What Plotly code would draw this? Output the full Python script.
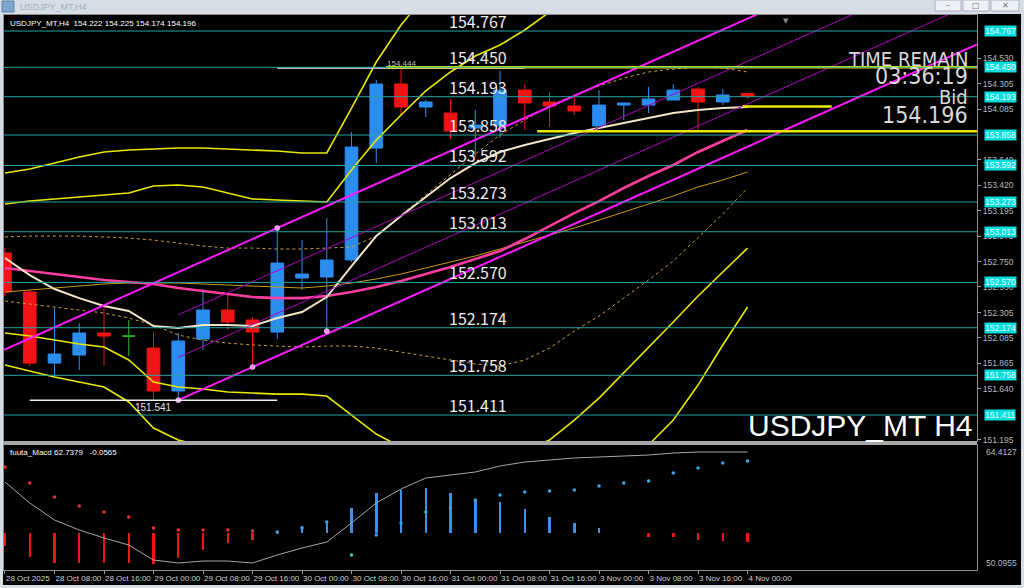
import plotly.graph_objects as go

# ---------------- data ----------------
BARS = list(range(31))
OPEN = [152.827, 152.486, 151.865, 151.935, 152.128, 152.101, 151.996, 151.621, 152.075, 152.329,
        152.241, 152.136, 152.608, 152.617, 152.766, 153.744, 154.304, 154.103, 154.050, 153.919,
        153.937, 154.251, 154.147, 154.112, 153.937, 154.120, 154.120, 154.164, 154.260, 154.147, 154.222]
HIGH = [152.870, 152.503, 152.346, 152.215, 152.372, 152.241, 152.136, 152.128, 152.512, 152.460,
        152.267, 153.045, 152.940, 153.133, 153.884, 154.339, 154.444, 154.164, 154.173, 154.077,
        154.417, 154.304, 154.234, 154.181, 154.251, 154.140, 154.278, 154.304, 154.278, 154.260, 154.225]
LOW = [152.451, 151.839, 151.760, 151.804, 151.839, 151.927, 151.548, 151.541, 151.979, 152.154,
       151.830, 152.075, 152.503, 152.145, 152.748, 153.613, 154.033, 154.015, 153.823, 153.666,
       153.832, 153.902, 153.928, 154.033, 153.937, 153.989, 154.050, 154.164, 153.902, 154.120, 154.174]
CLOSE = [152.486, 151.865, 151.944, 152.128, 152.101, 152.101, 151.621, 152.058, 152.329, 152.224,
         152.136, 152.739, 152.643, 152.766, 153.753, 154.304, 154.103, 154.147, 153.893, 153.945,
         154.251, 154.138, 154.112, 154.068, 154.120, 154.138, 154.173, 154.251, 154.147, 154.208, 154.196]
DOJI_BARS = [5]

BB_UP3 = [153.526, 153.561, 153.613, 153.666, 153.710, 153.727, 153.736, 153.744, 153.744, 153.736,
          153.727, 153.718, 153.701, 153.701, 154.094, 154.496, 154.819, 155.082, 155.257, 155.388,
          155.475, 155.519, 155.562, 155.606, 155.650, 155.650, 155.650, 155.606, 155.562, 155.492, 155.449]
BB_UP2 = [153.255, 153.281, 153.299, 153.316, 153.334, 153.351, 153.412, 153.421, 153.404, 153.351,
          153.299, 153.290, 153.281, 153.273, 153.552, 153.814, 154.033, 154.243, 154.409, 154.549,
          154.645, 154.776, 154.933, 154.986, 155.003, 155.012, 155.003, 154.968, 154.968, 154.951, 154.933]
BB_UP1 = [152.967, 152.975, 152.975, 152.975, 152.967, 152.958, 152.940, 152.914, 152.888, 152.870,
          152.870, 152.862, 152.862, 152.870, 152.879, 152.975, 153.159, 153.334, 153.517, 153.692,
          153.858, 153.989, 154.112, 154.208, 154.286, 154.356, 154.409, 154.435, 154.452, 154.444, 154.409]
BB_MID = [152.696, 152.670, 152.643, 152.617, 152.591, 152.573, 152.556, 152.521, 152.495, 152.468,
          152.442, 152.433, 152.433, 152.451, 152.486, 152.530, 152.582, 152.643, 152.704, 152.774,
          152.844, 152.949, 153.063, 153.176, 153.281, 153.395, 153.500, 153.596, 153.710, 153.806, 153.902]
BB_LO1 = [152.407, 152.381, 152.355, 152.329, 152.302, 152.259, 152.198, 152.110, 152.066, 152.040,
          152.023, 152.014, 152.005, 152.014, 152.014, 151.996, 151.961, 151.927, 151.892, 151.857,
          151.839, 151.892, 151.996, 152.145, 152.276, 152.433, 152.591, 152.757, 152.967, 153.168, 153.395]
BB_LO2 = [152.128, 152.101, 152.066, 152.031, 152.005, 151.892, 151.699, 151.656, 151.638, 151.612,
          151.603, 151.594, 151.594, 151.577, 151.411, 151.245, 151.131, 151.044, 151.000, 151.000,
          151.044, 151.105, 151.192, 151.367, 151.559, 151.778, 151.996, 152.224, 152.451, 152.661, 152.870]
BB_LO3 = [151.848, 151.795, 151.743, 151.699, 151.656, 151.525, 151.297, 151.192, 151.140, 151.105,
          151.088, 151.088, 151.105, 151.105, 150.886, 150.563, 150.345, 150.231, 150.187, 150.187,
          150.231, 150.318, 150.493, 150.668, 150.843, 151.000, 151.149, 151.367, 151.673, 152.023, 152.355]
MA_FAST = [152.783, 152.634, 152.512, 152.433, 152.364, 152.320, 152.189, 152.171, 152.197, 152.197,
           152.189, 152.259, 152.311, 152.442, 152.713, 152.975, 153.150, 153.316, 153.482, 153.613,
           153.710, 153.771, 153.823, 153.876, 153.919, 153.963, 154.007, 154.050, 154.077, 154.094, 154.103]
MA_SLOW = [152.486, 152.503, 152.521, 152.538, 152.556, 152.565, 152.565, 152.565, 152.556, 152.547,
           152.538, 152.530, 152.521, 152.538, 152.565, 152.600, 152.643, 152.696, 152.748, 152.801,
           152.862, 152.923, 152.984, 153.045, 153.115, 153.185, 153.255, 153.325, 153.404, 153.465, 153.535]

LEVELS = [154.767, 154.450, 154.193, 153.858, 153.592, 153.273, 153.013, 152.570, 152.174, 151.758, 151.411]
AXIS_TICKS = [154.530, 154.305, 154.085, 153.640, 153.420, 153.195, 152.975, 152.750, 152.530,
              152.305, 152.085, 151.865, 151.640, 151.195]

# channel anchors (bar, price)
CH_LOW_BARS = [7, 10]
CH_LOW_PRICES = [151.541, 151.830]
CH_HIGH_BAR = 11
CH_HIGH_PRICE = 153.045
CH_THIN_BAR = 7
CH_THIN_PRICES = [151.914, 152.287]
ANCHOR_BARS = [7, 10, 11, 13]
ANCHOR_PRICES = [151.541, 151.830, 153.045, 152.145]

# horizontal segments
YEL_PRICES = [154.450, 153.890, 154.107]
YEL_FROM = [15.4, 21.5, 29.8]
YEL_TO = [39.3, 39.3, 33.4]
LOW_MARK, LOW_FROM, LOW_TO, LOW_BAR = 151.541, 1, 11, 6
HIGH_MARK, HIGH_FROM, HIGH_TO, HIGH_BAR = 154.444, 11, 21, 16

TIME_TICK_BARS = [0, 2, 4, 6, 8, 10, 12, 14, 16, 18, 20, 22, 24, 26, 28, 30]
TIME_LABELS = ["28 Oct 2025", "28 Oct 08:00", "28 Oct 16:00", "29 Oct 00:00", "29 Oct 08:00",
               "29 Oct 16:00", "30 Oct 00:00", "30 Oct 08:00", "30 Oct 16:00", "31 Oct 00:00",
               "31 Oct 08:00", "31 Oct 16:00", "3 Nov 00:00", "3 Nov 08:00", "3 Nov 16:00", "4 Nov 00:00"]

MACD_LINE = [60.175, 57.769, 55.822, 54.677, 53.761, 52.959, 51.241, 50.897, 51.126, 51.126,
             50.897, 51.813, 52.615, 53.303, 55.479, 57.769, 59.373, 60.633, 60.977, 61.320,
             62.008, 62.466, 62.695, 62.924, 63.038, 63.153, 63.267, 63.496, 63.611, 63.611, 63.611]
HIST = [-1.489, -2.749, -3.436, -3.436, -3.436, -3.436, -3.551, -2.864, -1.947, -1.145,
        -0.802, -0.115, 0.802, 1.374, 2.864, 4.582, 4.925, 5.154, 4.582, 3.894,
        3.551, 2.749, 1.833, 1.145, 0.573, 0.057, -0.458, -0.458, -0.802, -0.916, -1.031]
HIST_BASE = 54.333
MACD_DOTS = [61.893, 60.060, 58.457, 57.426, 56.739, 56.166, 54.906, 54.677, 54.677, 54.677,
             54.563, 54.448, 54.906, 55.593, 51.813, 54.104, 55.479, 56.739, 57.197, 58.113,
             58.686, 59.030, 59.144, 59.259, 59.717, 60.060, 60.290, 61.206, 61.779, 62.351, 62.580]
MACD_MIN, MACD_MAX = 50.0955, 64.4127

X_RANGE = [-0.04, 39.27]
Y_RANGE = [151.184, 154.907]

# ---------------- styles ----------------
BLUE = "#2b8df0"
RED = "#f21414"
YELLOW = "#e8e800"
TEAL = "#26a3a3"
MAGENTA = "#ff19ff"
THIN_MAG = "#b000c0"
GRAYTXT = "#b8b8b8"
NARROW = "Liberation Sans Narrow, DejaVu Sans Condensed, Liberation Sans, sans-serif"

fig = go.Figure()

normal = [i for i in BARS if i not in DOJI_BARS]
fig.add_trace(go.Candlestick(
    x=[BARS[i] for i in normal], open=[OPEN[i] for i in normal], high=[HIGH[i] for i in normal],
    low=[LOW[i] for i in normal], close=[CLOSE[i] for i in normal],
    increasing=dict(line=dict(color=BLUE, width=1), fillcolor=BLUE),
    decreasing=dict(line=dict(color=RED, width=1), fillcolor=RED),
    whiskerwidth=0, hoverinfo="skip", xaxis="x", yaxis="y"))
fig.add_trace(go.Candlestick(
    x=[BARS[i] for i in DOJI_BARS], open=[OPEN[i] for i in DOJI_BARS], high=[HIGH[i] for i in DOJI_BARS],
    low=[LOW[i] for i in DOJI_BARS], close=[CLOSE[i] for i in DOJI_BARS],
    increasing=dict(line=dict(color="#1fc21f", width=1), fillcolor="#1fc21f"),
    decreasing=dict(line=dict(color="#1fc21f", width=1), fillcolor="#1fc21f"),
    whiskerwidth=0, hoverinfo="skip", xaxis="x", yaxis="y"))


def line(xs, ys, color, width, dash="solid"):
    fig.add_trace(go.Scatter(x=xs, y=ys, mode="lines", line=dict(color=color, width=width, dash=dash),
                             hoverinfo="skip", xaxis="x", yaxis="y"))


line(BARS, BB_UP1, "#c9a035", 1, "dot")
line(BARS, BB_LO1, "#c9a035", 1, "dot")
line(BARS, MA_SLOW, "#c89a10", 1)
for band in (BB_UP3, BB_UP2, BB_LO2, BB_LO3):
    line(BARS, band, YELLOW, 1.6)
line(BARS, BB_MID, "#ff3ca0", 2.6)
line(BARS, MA_FAST, "#f3e4c6", 2)

# channel (rays from anchors)
slope = (CH_LOW_PRICES[1] - CH_LOW_PRICES[0]) / (CH_LOW_BARS[1] - CH_LOW_BARS[0])
xa = [X_RANGE[0], X_RANGE[1]]
line(xa, [CH_HIGH_PRICE + slope * (x - CH_HIGH_BAR) for x in xa], MAGENTA, 2)
xb = [CH_LOW_BARS[0], X_RANGE[1]]
line(xb, [CH_LOW_PRICES[0] + slope * (x - CH_LOW_BARS[0]) for x in xb], MAGENTA, 2)
for p in CH_THIN_PRICES:
    xt = [CH_THIN_BAR, X_RANGE[1]]
    line(xt, [p + slope * (x - CH_THIN_BAR) for x in xt], THIN_MAG, 1)
fig.add_trace(go.Scatter(x=ANCHOR_BARS, y=ANCHOR_PRICES, mode="markers",
                         marker=dict(color="#ff8cff", size=5, line=dict(color="#ffffff", width=0.5)),
                         hoverinfo="skip", xaxis="x", yaxis="y"))

# horizontal segments
line([LOW_FROM, LOW_TO], [LOW_MARK, LOW_MARK], "#f0f0f0", 1.5)
line([HIGH_FROM, HIGH_TO], [HIGH_MARK, HIGH_MARK], "#f0f0f0", 1.5)
for p, a, b in zip(YEL_PRICES, YEL_FROM, YEL_TO):
    line([a, b], [p, p], YELLOW, 2.5)

# MACD panel
fig.add_trace(go.Bar(x=BARS, y=HIST, base=HIST_BASE, width=0.1,
                     marker=dict(color=[RED if v < 0 else "#3a90ea" for v in HIST], line=dict(width=0)),
                     hoverinfo="skip", xaxis="x2", yaxis="y2"))
fig.add_trace(go.Scatter(x=BARS, y=MACD_LINE, mode="lines", line=dict(color="#a8a8a8", width=1),
                         hoverinfo="skip", xaxis="x2", yaxis="y2"))
dot_cols = ["#e8303a" if i <= 10 else ("#40c8c8" if i == 14 else "#3aa6e8") for i in BARS]
fig.add_trace(go.Scatter(x=BARS, y=MACD_DOTS, mode="markers", marker=dict(color=dot_cols, size=3.5),
                         hoverinfo="skip", xaxis="x2", yaxis="y2"))

# ---------------- layout ----------------
PL, PR, PT, PB = 4, 977, 15, 570


def px_x(px):
    return (px - PL) / (PR - PL)


def px_y(py):
    return (PB - py) / (PB - PT)


shapes = [
    dict(type="rect", xref="paper", yref="paper", x0=px_x(3), x1=px_x(1021), y0=px_y(585), y1=px_y(14),
         fillcolor="black", line=dict(width=0), layer="below"),
    dict(type="rect", xref="paper", yref="paper", x0=px_x(3), x1=px_x(977), y0=px_y(445), y1=px_y(441),
         fillcolor="#a8a8a8", line=dict(width=0), layer="above"),
    dict(type="rect", xref="paper", yref="paper", x0=px_x(2), x1=px_x(14), y0=px_y(12), y1=px_y(1),
         fillcolor="#7fa6d0", line=dict(color="#5a7fa8", width=1)),
]
for x0, x1 in ((935, 961), (963, 989), (991, 1019)):
    shapes.append(dict(type="rect", xref="paper", yref="paper", x0=px_x(x0), x1=px_x(x1),
                       y0=px_y(11), y1=px_y(0), fillcolor="#eef1f5", line=dict(color="#a9b2be", width=1)))
for lv in LEVELS:
    shapes.append(dict(type="line", xref="x domain", yref="y", x0=0, x1=1, y0=lv, y1=lv,
                       line=dict(color=TEAL, width=1), layer="above"))

ann = []
for lv in LEVELS:
    ann.append(dict(x=17.86, y=lv, xref="x", yref="y", xanchor="left", yanchor="bottom", yshift=-4,
                    text=f"{lv:.3f}", showarrow=False,
                    font=dict(family="Noto Sans CJK JP", size=16, color="#ececec")))
    ann.append(dict(x=px_x(984), y=lv, xref="paper", yref="y", xanchor="left", yanchor="middle",
                    text=f"{lv:.3f}", showarrow=False, bgcolor="#00dede", borderpad=0,
                    font=dict(family="Liberation Sans", size=8.5, color="#f4ffff")))
ann += [
    dict(x=LOW_BAR, y=LOW_MARK, xref="x", yref="y", xanchor="center", yanchor="top", text=f"{LOW_MARK:.3f}",
         showarrow=False, font=dict(family="Liberation Sans", size=10, color="#e4e4e4")),
    dict(x=HIGH_BAR, y=HIGH_MARK, xref="x", yref="y", xanchor="center", yanchor="bottom", text=f"{HIGH_MARK:.3f}",
         showarrow=False, yshift=-2, font=dict(family="Liberation Sans", size=8, color="#bdbdbd")),
    dict(x=px_x(8), y=px_y(24), xref="paper", yref="paper", xanchor="left", yanchor="middle",
         text="USDJPY_MT,H4  154.222 154.225 154.174 154.196", showarrow=False,
         font=dict(family="Liberation Sans", size=8, color="#ffffff")),
    dict(x=px_x(8), y=px_y(452), xref="paper", yref="paper", xanchor="left", yanchor="middle",
         text="fuuta_Macd 62.7379   -0.0565", showarrow=False,
         font=dict(family="Liberation Sans", size=8, color="#ffffff")),
    dict(x=px_x(970), y=px_y(59), xref="paper", yref="paper", xanchor="right", yanchor="middle",
         text="TIME REMAIN", showarrow=False,
         font=dict(family=NARROW, size=20, color="#d8d8d8")),
    dict(x=px_x(970), y=px_y(76), xref="paper", yref="paper", xanchor="right", yanchor="middle",
         text="03:36:19", showarrow=False,
         font=dict(family=NARROW, size=23, color="#d8d8d8")),
    dict(x=px_x(970), y=px_y(97), xref="paper", yref="paper", xanchor="right", yanchor="middle",
         text="Bid", showarrow=False,
         font=dict(family=NARROW, size=20, color="#d8d8d8")),
    dict(x=px_x(970), y=px_y(115), xref="paper", yref="paper", xanchor="right", yanchor="middle",
         text="154.196", showarrow=False,
         font=dict(family=NARROW, size=23, color="#d8d8d8")),
    dict(x=px_x(975), y=px_y(425), xref="paper", yref="paper", xanchor="right", yanchor="middle",
         text="USDJPY_MT H4", showarrow=False,
         font=dict(family="Liberation Sans", size=30, color="#ffffff")),
    dict(x=px_x(984), y=MACD_MAX, xref="paper", yref="y2", xanchor="left", yanchor="top",
         text=f"{MACD_MAX:.4f}", showarrow=False, font=dict(family="Liberation Sans", size=8.5, color=GRAYTXT)),
    dict(x=px_x(984), y=MACD_MIN, xref="paper", yref="y2", xanchor="left", yanchor="bottom",
         text=f"{MACD_MIN:.4f}", showarrow=False, font=dict(family="Liberation Sans", size=8.5, color=GRAYTXT)),
    dict(x=px_x(18), y=px_y(7), xref="paper", yref="paper", xanchor="left", yanchor="middle",
         text="USDJPY_MT,H4", showarrow=False, font=dict(family="Liberation Sans", size=9, color="#a3acb8")),
    dict(x=px_x(948), y=px_y(6), xref="paper", yref="paper", xanchor="center", yanchor="middle",
         text="–", showarrow=False, font=dict(family="DejaVu Sans", size=8, color="#6d7580")),
    dict(x=px_x(976), y=px_y(6), xref="paper", yref="paper", xanchor="center", yanchor="middle",
         text="□", showarrow=False, font=dict(family="DejaVu Sans", size=8, color="#6d7580")),
    dict(x=px_x(1005), y=px_y(6), xref="paper", yref="paper", xanchor="center", yanchor="middle",
         text="✕", showarrow=False, font=dict(family="DejaVu Sans", size=8, color="#6d7580")),
    dict(x=31.56, y=1, xref="x", yref="paper", xanchor="center", yanchor="top",
         text="▼", showarrow=False, font=dict(family="DejaVu Sans", size=7, color="#8a8a8a")),
]

axis_common = dict(showgrid=False, zeroline=False, showline=True, mirror=True, linecolor="#8c8c8c",
                   linewidth=1, automargin=False)

fig.update_layout(
    width=1024, height=588,
    margin=dict(l=PL, r=1024 - PR, t=PT, b=588 - PB, autoexpand=False),
    paper_bgcolor="#d7dde5", plot_bgcolor="black",
    showlegend=False, boxgap=0.27, bargap=0,
    font=dict(family="Liberation Sans", color=GRAYTXT),
    xaxis=dict(domain=[0, 1], anchor="y", range=X_RANGE, showticklabels=False, ticks="",
               rangeslider=dict(visible=False), **axis_common),
    yaxis=dict(domain=[px_y(441), 1], anchor="x", side="right", range=Y_RANGE,
               tickvals=AXIS_TICKS, ticktext=[f"{v:.3f}" for v in AXIS_TICKS],
               ticks="outside", ticklen=3, tickcolor="#a0a0a0",
               tickfont=dict(family="Liberation Sans", size=8.5, color=GRAYTXT), **axis_common),
    xaxis2=dict(domain=[0, 1], anchor="y2", matches="x", range=X_RANGE,
                tickvals=TIME_TICK_BARS, ticktext=TIME_LABELS, ticklabelposition="outside right",
                tickangle=0, ticks="outside", ticklen=3, tickcolor="#a0a0a0",
                tickfont=dict(family="Liberation Sans", size=8, color="#d2d2d2"),
                rangeslider=dict(visible=False), **axis_common),
    yaxis2=dict(domain=[0, px_y(445)], anchor="x2", side="right", range=[MACD_MIN, MACD_MAX],
                showticklabels=False, ticks="", **axis_common),
    shapes=shapes, annotations=ann,
)

fig.write_html("out.html", config={"displayModeBar": False, "staticPlot": True},
               post_script="document.body.style.margin='0';document.body.style.overflow='hidden';")
